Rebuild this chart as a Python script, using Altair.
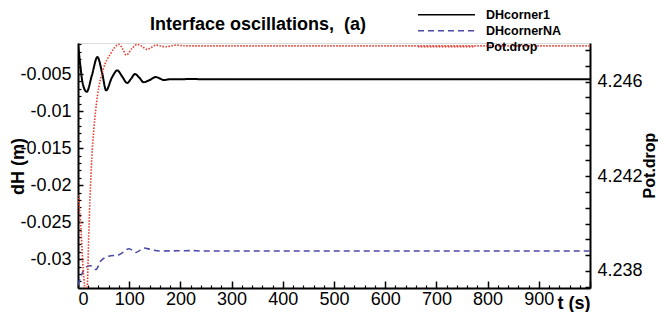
import altair as alt
import pandas as pd

# ---- data ----
t_black = [0, 4, 9, 17, 27, 38, 47, 55, 66, 77, 86, 96, 104, 111, 120, 128, 140, 152, 160, 167, 180, 200, 225, 240, 1000]
v_black = [-0.0009, -0.0035, -0.0062, -0.0074, -0.0052, -0.0027, -0.0048, -0.0072, -0.0055, -0.0045, -0.0053,
           -0.0062, -0.0056, -0.0050, -0.0055, -0.0061, -0.0058, -0.0054, -0.0056, -0.0058, -0.0057, -0.0057,
           -0.00565, -0.0057, -0.0057]

t_blue = [0, 5, 15, 25, 35, 44, 60, 80, 100, 113, 129, 142, 160, 225, 240, 1000]
v_blue = [-0.0335, -0.0325, -0.0311, -0.0309, -0.0314, -0.0303, -0.0296, -0.0294, -0.0286, -0.0291, -0.0285,
          -0.0287, -0.0289, -0.02885, -0.0289, -0.0289]

t_red = [0, 5, 10, 13, 15.5, 18, 21, 23.5, 27, 31, 38, 49, 64, 80, 87, 94.5, 105, 116, 125, 134, 143, 152, 171, 191, 210, 1000]
v_red = [4.2412, 4.2401, 4.2381, 4.2373, 4.2369, 4.2373, 4.2395, 4.2411, 4.2428, 4.2440, 4.2454, 4.2465, 4.2472,
         4.24758, 4.2474, 4.24713, 4.2474, 4.24758, 4.2475, 4.24737, 4.24745, 4.24755, 4.24748, 4.24755, 4.24752, 4.24752]

series_names = ["DHcorner1", "DHcornerNA", "Pot.drop"]
series_colors = ["#000000", "#4a4aa8", "#e8392b"]

x_labels = [0, 100, 200, 300, 400, 500, 600, 700, 800, 900]
x_minor = [v for v in range(0, 1001, 20) if v % 100 != 0]
y_labels = [-0.005, -0.01, -0.015, -0.02, -0.025, -0.03]
y_minor = [-0.001 * k for k in range(1, 34) if k % 5 != 0]
r_labels = [4.246, 4.242, 4.238]
r_ticks = [4.238 + k * 0.002 / 3 for k in range(-1, 15)]

x_domain = [0, 1000]
y_domain = [-0.0339, -0.0008]
r_domain = [4.23727, 4.24764]

FONT = "Liberation Sans"

df_black = pd.DataFrame({"t": t_black, "v": v_black, "series": series_names[0]})
df_blue = pd.DataFrame({"t": t_blue, "v": v_blue, "series": series_names[1]})
df_red = pd.DataFrame({"t": t_red, "v": v_red, "series": series_names[2]})

legend = alt.Legend(orient="none", legendX=339, legendY=-36, title=None, symbolType="stroke",
                    symbolSize=3249, symbolStrokeWidth=1.6, clipHeight=15.5, rowPadding=0, padding=0,
                    labelFont=FONT, labelFontSize=12.5, labelFontWeight="bold", labelOffset=10,
                    labelColor="black")
color = alt.Color("series:N", scale=alt.Scale(domain=series_names, range=series_colors), legend=legend)
dash = alt.StrokeDash("series:N", scale=alt.Scale(domain=series_names, range=[[1, 0], [6, 4], [1.5, 1.5]]),
                      legend=legend)

xs = alt.Scale(domain=x_domain, nice=False, zero=False)
ys = alt.Scale(domain=y_domain, nice=False, zero=False)
rs = alt.Scale(domain=r_domain, nice=False, zero=False)

common = dict(grid=False, labelFont=FONT, titleFont=FONT, tickColor="black", domainColor="black",
              labelColor="black", titleColor="black")

# Layer 1: black line with main axes
ax_x_main = alt.Axis(orient="bottom", values=x_labels, labelExpr="'' + datum.value", ticks=False, tickSize=0,
                     domainWidth=2, labelFontSize=18, labelPadding=2, title="t (s)", titleX=512, titleY=20,
                     titleAlign="right", titleBaseline="alphabetic", titleFontSize=18, titleFontWeight="bold",
                     **common)
ax_y_main = alt.Axis(orient="left", values=y_labels, labelExpr="'' + datum.value", ticks=False, tickSize=0,
                     domainWidth=2, labelFontSize=18, labelPadding=7, title="dH (m)", titleX=-60, titleY=123,
                     titleAngle=270, titleBaseline="middle", titleFontSize=18, titleFontWeight="bold", **common)
black = alt.Chart(df_black).mark_line(strokeWidth=2, interpolate="monotone", clip=True).encode(
    x=alt.X("t:Q", scale=xs, axis=ax_x_main),
    y=alt.Y("v:Q", scale=ys, axis=ax_y_main),
    color=color, strokeDash=dash)

# Layer 2: blue line, major inward ticks
ax_x_maj = alt.Axis(orient="bottom", values=x_labels + [1000], labels=False, domain=False, offset=-7, tickSize=7,
                    tickWidth=1.5, title=None, **common)
ax_y_maj = alt.Axis(orient="left", values=y_labels, labels=False, domain=False, offset=-5, tickSize=5,
                    tickWidth=1.5, title=None, **common)
blue = alt.Chart(df_blue).mark_line(strokeWidth=1.6, interpolate="monotone", clip=True).encode(
    x=alt.X("t:Q", scale=xs, axis=ax_x_maj),
    y=alt.Y("v:Q", scale=ys, axis=ax_y_maj),
    color=color, strokeDash=dash)

# Layer 3: red line, right axis and x minor ticks
ax_x_min = alt.Axis(orient="bottom", values=x_minor, labels=False, domain=False, offset=-3, tickSize=3,
                    tickWidth=1.2, title=None, **common)
ax_r_main = alt.Axis(orient="right", values=r_labels, labelExpr="'' + datum.value", ticks=False, tickSize=0,
                     domainWidth=2, labelFontSize=18, labelPadding=7, title="Pot.drop", titleX=59, titleY=122,
                     titleAngle=270, titleBaseline="middle", titleFontSize=16, titleFontWeight="bold", **common)
red = alt.Chart(df_red).mark_line(strokeWidth=1.6, interpolate="monotone", clip=True).encode(
    x=alt.X("t:Q", scale=xs, axis=ax_x_min),
    y=alt.Y("v:Q", scale=rs, axis=ax_r_main),
    color=color, strokeDash=dash)

# Layer 4: invisible, left minor ticks
ax_y_min = alt.Axis(orient="left", values=y_minor, labels=False, domain=False, offset=-3, tickSize=3,
                    tickWidth=1.2, title=None, **common)
left_minor = alt.Chart(df_black).mark_line(opacity=0).encode(
    x=alt.X("t:Q", scale=xs, axis=None),
    y=alt.Y("v:Q", scale=ys, axis=ax_y_min))

# Layer 5: invisible, right inward ticks
ax_r_ticks = alt.Axis(orient="right", values=r_ticks, labels=False, domain=False, offset=-5, tickSize=5,
                      tickWidth=1.5, title=None, **common)
right_ticks = alt.Chart(df_red).mark_line(opacity=0).encode(
    x=alt.X("t:Q", scale=xs, axis=None),
    y=alt.Y("v:Q", scale=rs, axis=ax_r_ticks))

chart = alt.layer(black, blue, red, left_minor, right_ticks).resolve_scale(
    y="independent").resolve_axis(x="independent", y="independent").properties(
    width=512, height=245,
    autosize=alt.AutoSizeParams(type="none"),
    padding={"left": 70, "top": 35, "right": 68, "bottom": 24},
    title=alt.TitleParams("Interface oscillations,\u00a0 (a)", anchor="start", frame="group", dx=72, offset=-41,
                          baseline="alphabetic",
                          font=FONT, fontSize=18, fontWeight="bold", color="black"),
).configure_view(stroke=None).configure(background="white")

chart.save("out.html", embed_options={"renderer": "svg", "actions": False})
